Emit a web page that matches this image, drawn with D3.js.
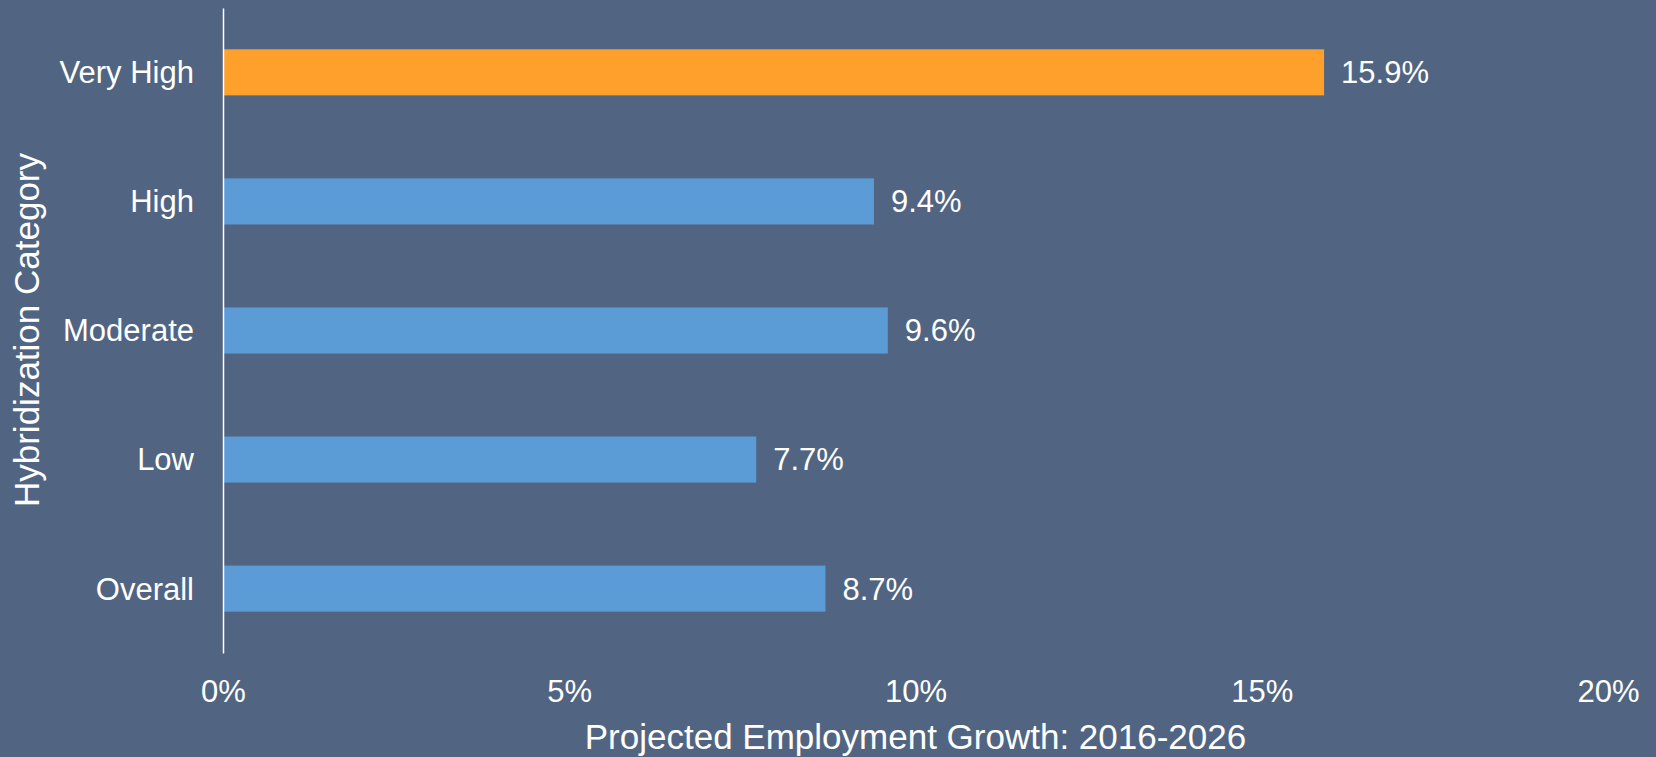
<!DOCTYPE html>
<html lang="en">
<head>
<meta charset="UTF-8">
<title>Projected Employment Growth by Hybridization Category</title>
<script src="https://d3js.org/d3.v7.min.js"></script>
<style>
    html, body {
        margin: 0;
        padding: 0;
        background-color: #516582;
    }
    svg {
        display: block;
    }
    svg text {
        font-family: Arial, "Liberation Sans", sans-serif;
        fill: #fff;
    }
    .axis text {
        font-size: 31px;
    }
</style>
</head>
<body>
<div id="chart"></div>
<script>
    // Data
    const categories = ["Very High", "High", "Moderate", "Low", "Overall"];
    const growth = [15.9, 9.4, 9.6, 7.7, 8.7];
    const highlight = ["Very High"];
    const xTicks = [0, 5, 10, 15, 20];

    const width = 1656;
    const height = 757;

    const svg = d3.select("#chart")
        .append("svg")
        .attr("width", width)
        .attr("height", height);

    svg.append("rect")
        .attr("width", width)
        .attr("height", height)
        .attr("fill", "#516582");

    const x = d3.scaleLinear()
        .domain([0, 20])
        .range([223, 1608]);

    const y = d3.scaleBand()
        .domain(categories)
        .range([8, 653])
        .paddingInner(0.643)
        .paddingOuter(0.32);

    // Bars
    svg.selectAll(".bar")
        .data(categories)
        .enter()
        .append("rect")
        .attr("class", "bar")
        .attr("x", x(0))
        .attr("y", d => y(d))
        .attr("width", (d, i) => x(growth[i]) - x(0))
        .attr("height", y.bandwidth())
        .attr("fill", d => highlight.includes(d) ? "#ffa02c" : "#5b9bd6");

    // Value labels
    svg.selectAll(".value")
        .data(categories)
        .enter()
        .append("text")
        .attr("class", "value")
        .attr("x", (d, i) => x(growth[i]) + 17)
        .attr("y", d => y(d) + y.bandwidth() / 2)
        .attr("dy", "0.35em")
        .style("font-size", "31px")
        .text((d, i) => growth[i].toFixed(1) + "%");

    // Y axis
    const yAxis = svg.append("g")
        .attr("class", "axis")
        .attr("transform", `translate(${x(0)},0)`)
        .call(d3.axisLeft(y).tickSize(0).tickPadding(29));
    yAxis.select(".domain")
        .attr("stroke", "#fff")
        .attr("stroke-width", 1.5);
    yAxis.selectAll("text").attr("dy", "0.35em");

    // X axis
    const xAxis = svg.append("g")
        .attr("class", "axis")
        .attr("transform", "translate(0,653)")
        .call(d3.axisBottom(x).tickValues(xTicks).tickFormat(d => d + "%").tickSize(0).tickPadding(27));
    xAxis.select(".domain").remove();

    // Axis titles
    svg.append("text")
        .attr("x", (x.range()[0] + x.range()[1]) / 2)
        .attr("y", 749)
        .attr("text-anchor", "middle")
        .style("font-size", "35px")
        .text("Projected Employment Growth: 2016-2026");

    svg.append("text")
        .attr("transform", "translate(39,330) rotate(-90)")
        .attr("text-anchor", "middle")
        .style("font-size", "35px")
        .text("Hybridization Category");
</script>
</body>
</html>
